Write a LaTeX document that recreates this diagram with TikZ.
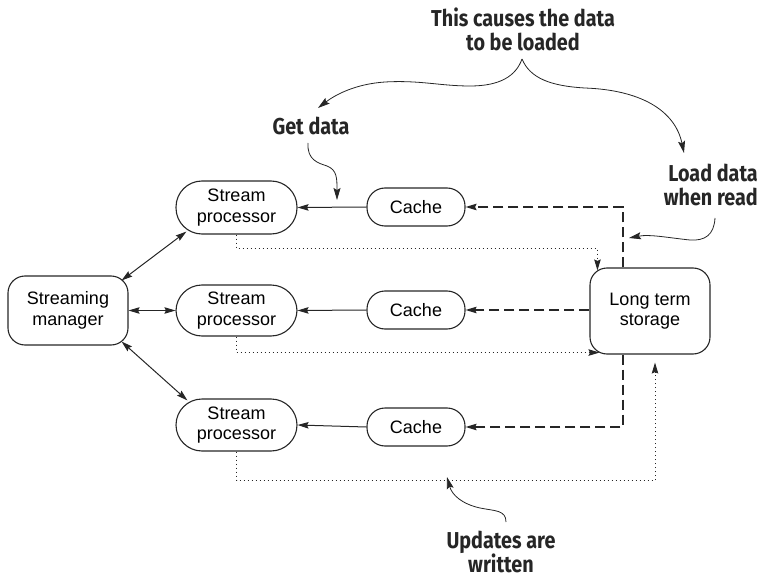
\documentclass[tikz,border=0pt]{standalone}
\usepackage{fontspec}
\setmainfont{Liberation Sans}
\newfontfamily\annfont[FakeStretch=0.86]{Fira Sans}
\usetikzlibrary{arrows.meta}
\definecolor{ink}{gray}{0.15}
\begin{document}
\begin{tikzpicture}[x=1pt,y=-1pt,
  box/.style={draw=ink,line width=1.1pt,font=\fontsize{18}{20.5}\selectfont,align=center,inner sep=0pt},
  procbox/.style={box,minimum width=121pt,minimum height=53pt,rounded corners=26pt},
  cachebox/.style={box,minimum width=98pt,minimum height=38pt,rounded corners=18pt},
  bigbox/.style={box,minimum width=120pt,rounded corners=17pt},
  tip/.style={-{Stealth[length=11pt,width=6.5pt,inset=1.5pt]}},
  conn/.style={tip,draw=ink,line width=1pt},
  biconn/.style={{Stealth[length=11pt,width=6.5pt,inset=1.5pt]}-{Stealth[length=11pt,width=6.5pt,inset=1.5pt]},draw=ink,line width=1pt},
  dashedconn/.style={tip,draw=ink,line width=1.3pt,dash pattern=on 10pt off 5pt},
  dottedconn/.style={tip,draw=ink,line width=0.9pt,dash pattern=on 1pt off 3pt},
  note/.style={font=\annfont\bfseries\fontsize{23}{24}\selectfont,text=ink,inner sep=0pt},
  notearrow/.style={-{Stealth[length=12pt,width=7pt,inset=2pt]},draw=ink,line width=0.8pt}
]
\useasboundingbox (0,0) rectangle (760,580);

% main boxes
\node[bigbox,minimum height=69pt] (mgr) at (68,310.5) {Streaming\\manager};
\node[procbox] (sp1) at (236.5,207.5) {Stream\\processor};
\node[procbox,minimum height=51pt] (sp2) at (236.5,310.5) {Stream\\processor};
\node[procbox,minimum height=52pt] (sp3) at (236.5,425) {Stream\\processor};
\node[cachebox] (c1) at (416,207) {Cache};
\node[cachebox] (c2) at (416,310) {Cache};
\node[cachebox] (c3) at (416,427) {Cache};
\node[bigbox,minimum height=86pt] (lts) at (650,311) {Long term\\storage};

% manager <-> processors
\draw[biconn] ([shift={(-7,5)}]mgr.north east) -- ([shift={(11,-3)}]sp1.south west);
\draw[biconn] (mgr.east) -- (sp2.west);
\draw[biconn] ([shift={(-7,-4)}]mgr.south east) -- ([shift={(12,2)}]sp3.north west);

% cache -> processor
\draw[conn] (c1.west) -- (sp1.east);
\draw[conn] (c2.west) -- (sp2.east);
\draw[conn] (c3.west) -- (sp3.east);

% storage -> caches (dashed)
\draw[dashedconn] ([xshift=-27pt]lts.north) |- (c1.east);
\draw[dashedconn] (lts.west |- c2.east) -- (c2.east);
\draw[dashedconn] ([xshift=-27pt]lts.south) |- (c3.east);

% processors -> storage (dotted)
\coordinate (w1) at ([shift={(8,3)}]lts.north west);
\coordinate (w2) at ([shift={(10,-2)}]lts.south west);
\coordinate (w3) at ([shift={(5,8)}]lts.south);
\draw[dottedconn] (sp1.south) -- ++(0,14) -| (w1);
\draw[dottedconn] (sp2.south) |- (w2);
\draw[dottedconn] (sp3.south) -- ++(0,29) -| (w3);

% annotations
\node[note,align=center] (tcause) at (523,29) {This causes the data\\to be loaded};
\node[note] (tget) at (311,126) {Get data};
\node[note,align=right,anchor=east] (tload) at (758,185) {Load data\\when read};
\node[note,align=center] (tupd) at (501,552) {Updates are\\written};

\coordinate (bracetip) at (522,59);
\coordinate (getend) at (318,108);
\coordinate (loadend) at (684,153);
\draw[notearrow] (bracetip) .. controls (516,76) and (500,86) .. (470,86)
  .. controls (440,86) and (420,80) .. (385,82)
  .. controls (355,84) and (335,95) .. (getend);
\draw[notearrow] (bracetip) .. controls (530,78) and (550,86) .. (585,88)
  .. controls (640,90) and (675,110) .. (loadend);

\coordinate (gs) at (308,143);
\coordinate (ge) at (337,200);
\draw[notearrow] (gs) .. controls (307,160) and (318,163) .. (327,166)
  .. controls (337,170) and (337,178) .. (ge);

\coordinate (ls) at (715,218);
\coordinate (le) at (629,238);
\draw[notearrow] (ls) .. controls (714,235) and (705,241) .. (690,240)
  .. controls (670,238) and (650,234) .. (le);

\coordinate (us) at (506,522);
\coordinate (ue) at (447,477);
\draw[notearrow] (us) .. controls (506,510) and (495,511) .. (480,508)
  .. controls (462,504) and (452,495) .. (ue);
\end{tikzpicture}
\end{document}
